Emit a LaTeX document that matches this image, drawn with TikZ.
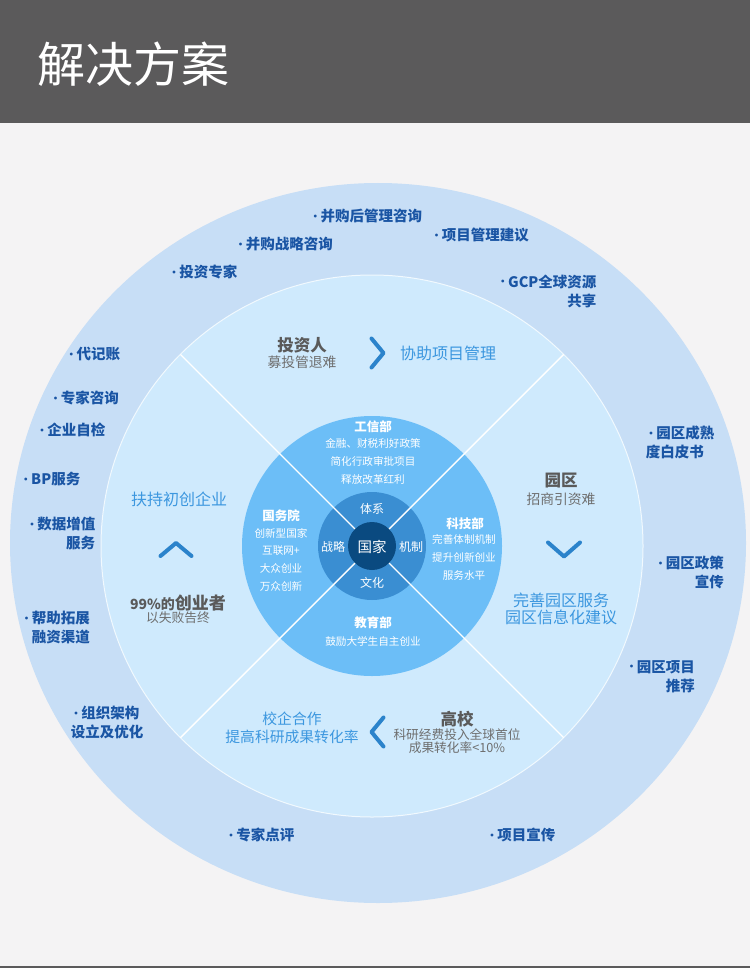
\documentclass[tikz,border=0pt]{standalone}
\usepackage{fontspec}
\setmainfont{Noto Sans CJK SC}
\definecolor{pagebg}{HTML}{F4F3F4}
\definecolor{headbg}{HTML}{5B5A5B}
\definecolor{ringout}{HTML}{C7DEF6}
\definecolor{ringmid}{HTML}{CFEAFD}
\definecolor{ringin}{HTML}{6CBEF7}
\definecolor{ringcore}{HTML}{3A8ED2}
\definecolor{navy}{HTML}{0A4A80}
\definecolor{outtxt}{HTML}{1A55A4}
\definecolor{acttxt}{HTML}{3C97DF}
\definecolor{chev}{HTML}{2B83CB}
\definecolor{graytxt}{HTML}{5A5A5A}
\definecolor{graysub}{HTML}{6E6E6E}
\newcommand\itemdot{\raisebox{1.3pt}{\fontsize{10.5}{10}\selectfont•}}

\begin{document}
\begin{tikzpicture}[x=1pt,y=-1pt,
    every node/.style={inner sep=0pt},
    outer/.style={text=outtxt,font=\bfseries\fontsize{14.5}{19}\selectfont},
    who/.style={text=graytxt,font=\bfseries\fontsize{16.5}{18}\selectfont},
    whosub/.style={text=graysub,font=\fontsize{13.8}{16}\selectfont},
    act/.style={text=acttxt,font=\fontsize{16}{17}\selectfont,align=center},
    dept/.style={text=white,font=\bfseries\fontsize{12.5}{14}\selectfont},
    deptsub/.style={text=white,font=\fontsize{10.6}{17.7}\selectfont,align=center},
    core/.style={text=white,font=\fontsize{12}{14}\selectfont},
    chevron/.style={chev,line width=4pt,line cap=round,line join=round},
    divider/.style={white,line width=1.4pt}]

    % page, header and footer line
    \useasboundingbox (0,0) rectangle (750,968);
    \fill[pagebg] (0,0) rectangle (750,968);
    \fill[headbg] (0,0) rectangle (750,123);
    \fill[headbg] (0,965.5) rectangle (750,968);
    \node[anchor=west,text=white,font=\fontsize{48}{50}\selectfont] (title) at (37,64) {解决方案};

    % rings
    \coordinate (c) at (372,546);
    \fill[ringout] (378,543) ellipse [x radius=368, y radius=360];
    \filldraw[fill=ringmid,draw=white!70!ringmid,line width=1pt] (c) circle [radius=271];
    \fill[ringin] (c) circle [radius=130];
    \fill[ringcore] (c) circle [radius=54];
    \foreach \a in {45,135,225,315}
        \draw[divider] (c) -- ++(\a:271);
    \fill[navy] (c) circle [radius=24];

    % outer ring items
    \node[outer] (o1) at (366,216) {\itemdot 并购后管理咨询};
    \node[outer] (o2) at (480,235) {\itemdot 项目管理建议};
    \node[outer] (o3) at (284,244) {\itemdot 并购战略咨询};
    \node[outer] (o4) at (203,272) {\itemdot 投资专家};
    \node[outer,align=right] (o5) at (547,291) {\itemdot GCP全球资源\\共享};
    \node[outer] (o6) at (93,354) {\itemdot 代记账};
    \node[outer] (o7) at (84.5,398) {\itemdot 专家咨询};
    \node[outer] (o8) at (71,430) {\itemdot 企业自检};
    \node[outer] (o9) at (50.5,479) {\itemdot BP服务};
    \node[outer,align=right] (o10) at (61,533.5) {\itemdot 数据增值\\服务};
    \node[outer,align=right] (o11) at (55.5,628) {\itemdot 帮助拓展\\融资渠道};
    \node[outer,align=left] (o12) at (107,722.5) {\itemdot 组织架构\\设立及优化};
    \node[outer] (o13) at (260,835) {\itemdot 专家点评};
    \node[outer] (o14) at (521,835) {\itemdot 项目宣传};
    \node[outer,align=left] (o15) at (680,442.5) {\itemdot 园区成熟\\度白皮书};
    \node[outer,align=right] (o16) at (689.5,572.5) {\itemdot 园区政策\\宣传};
    \node[outer,align=right] (o17) at (660.5,676.5) {\itemdot 园区项目\\推荐};

    % top sector
    \node[who] (investor) at (302,345) {投资人};
    \node[whosub] (investorsub) at (302,362) {募投管退难};
    \draw[chevron] (371.5,338.5) -- (383.5,353) -- (371.5,367.5);
    \node[act] (manage) at (448,353) {协助项目管理};

    % left sector
    \node[act] (startup) at (179,499) {扶持初创企业};
    \draw[chevron] (160.5,556) -- (176,543) -- (191.5,556);
    \node[text=graytxt,font=\bfseries] (founders) at (178,603)
        {{\fontsize{14}{16}\selectfont 99\%的}{\fontsize{17}{18}\selectfont 创业者}};
    \node[text=graysub,font=\fontsize{12.8}{14}\selectfont] (fail) at (178,618) {以失败告终};

    % right sector
    \node[who] (park) at (561,481) {园区};
    \node[whosub] (parksub) at (561,499) {招商引资难};
    \draw[chevron] (548,542.5) -- (564,556.5) -- (580,542.5);
    \node[act,font=\fontsize{16}{17}\selectfont] (parkact) at (561,608.5) {完善园区服务\\园区信息化建议};

    % bottom sector
    \node[act,font=\fontsize{14.8}{18}\selectfont] (coop) at (292,728) {校企合作\\提高科研成果转化率};
    \draw[chevron] (383.5,717.5) -- (371.5,732) -- (383.5,746.5);
    \node[who] (univ) at (457,719) {高校};
    \node[text=graysub,font=\fontsize{12.7}{13}\selectfont,align=center] (univsub) at (457,741.5)
        {科研经费投入全球首位\\成果转化率<10\%};

    % inner circle
    \node[dept] (miit) at (373,427) {工信部};
    \node[deptsub] (miitsub) at (373,461.5) {金融、财税利好政策\\简化行政审批项目\\释放改革红利};
    \node[dept] (council) at (281,516) {国务院};
    \node[deptsub] (councilsub) at (281,559.5) {创新型国家\\互联网+\\大众创业\\万众创新};
    \node[dept] (most) at (465,524) {科技部};
    \node[deptsub] (mostsub) at (464,557.5) {完善体制机制\\提升创新创业\\服务水平};
    \node[dept] (moe) at (373,623) {教育部};
    \node[deptsub] (moesub) at (373,641) {鼓励大学生自主创业};

    % core ring
    \node[core] (system) at (372,509) {体系};
    \node[core] (strategy) at (333,547) {战略};
    \node[core] (mechanism) at (411,547) {机制};
    \node[core] (culture) at (372,583) {文化};
    \node[core,font=\fontsize{14.5}{16}\selectfont] (nation) at (372,547) {国家};
\end{tikzpicture}
\end{document}
